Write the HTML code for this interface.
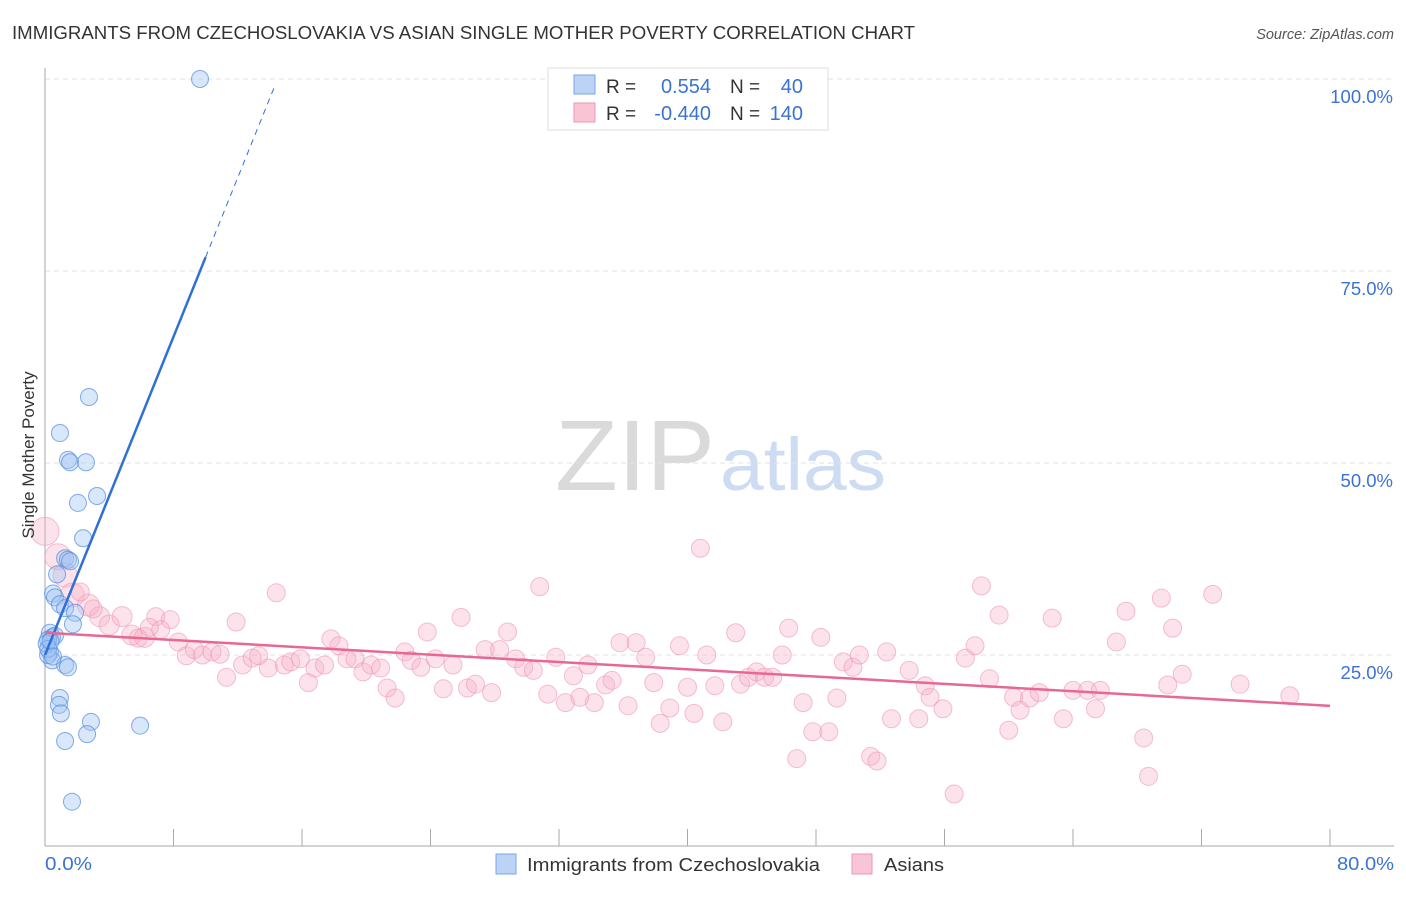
<!DOCTYPE html>
<html><head><meta charset="utf-8"><style>
body{margin:0;background:#fff;font-family:"Liberation Sans",sans-serif;}
svg text{font-family:"Liberation Sans",sans-serif;}
</style></head><body>
<svg id="chart" width="1406" height="892">
<text x="12" y="39" font-size="18" fill="#333" textLength="903" lengthAdjust="spacingAndGlyphs">IMMIGRANTS FROM CZECHOSLOVAKIA VS ASIAN SINGLE MOTHER POVERTY CORRELATION CHART</text>
<text x="1394" y="39" font-size="14.5" fill="#555" font-style="italic" text-anchor="end">Source: ZipAtlas.com</text>
<g>
<text x="555" y="490" font-size="100" fill="#dadada" font-family="Liberation Serif" textLength="160" lengthAdjust="spacingAndGlyphs">ZIP</text>
<text x="720" y="490" font-size="74" fill="#cddcf2" textLength="166" lengthAdjust="spacingAndGlyphs">atlas</text>
</g>
<g id="grid"></g>
<g id="axes"></g>
<g id="pts"></g>
<g id="lines"></g>
<text transform="translate(34,455) rotate(-90)" font-size="17" fill="#333" text-anchor="middle">Single Mother Poverty</text>
<text x="45" y="870" font-size="18" fill="#3b73d4" textLength="47" lengthAdjust="spacingAndGlyphs">0.0%</text>
<text x="1337" y="870" font-size="18" fill="#3b73d4" textLength="57" lengthAdjust="spacingAndGlyphs">80.0%</text>
<g>
<rect x="548" y="68" width="280" height="62" fill="#fff" stroke="#ddd"/>
<rect x="574" y="75" width="21" height="19" fill="#bcd3f5" stroke="#7aa5e6"/>
<rect x="574" y="103" width="21" height="19" fill="#f9c5d4" stroke="#ee97b3"/>
<text x="606" y="93" font-size="19" fill="#333">R =</text>
<text x="711" y="93" font-size="20" fill="#3b73d4" text-anchor="end">0.554</text>
<text x="730" y="93" font-size="19" fill="#333">N =</text>
<text x="803" y="93" font-size="20" fill="#3b73d4" text-anchor="end">40</text>
<text x="606" y="120" font-size="19" fill="#333">R =</text>
<text x="711" y="120" font-size="20" fill="#3b73d4" text-anchor="end">-0.440</text>
<text x="730" y="120" font-size="19" fill="#333">N =</text>
<text x="803" y="120" font-size="20" fill="#3b73d4" text-anchor="end">140</text>
</g>
<g>
<rect x="496" y="854" width="20" height="20" fill="#bcd3f5" stroke="#7aa5e6"/>
<text x="527" y="871" font-size="18.5" fill="#333" textLength="293" lengthAdjust="spacingAndGlyphs">Immigrants from Czechoslovakia</text>
<rect x="852" y="854" width="20" height="20" fill="#f9c5d4" stroke="#ee97b3"/>
<text x="884" y="871" font-size="18.5" fill="#333" textLength="60" lengthAdjust="spacingAndGlyphs">Asians</text>
</g>
</svg>
<script>
const yTicks=[25,50,75,100];
const yTickLabels=["25.0%","50.0%","75.0%","100.0%"];
const xTicks=[0,8,16,24,32,40,48,56,64,72,80];
const blueX=[9.65,2.74,0.93,1.43,1.56,2.55,3.24,2.05,2.37,1.25,1.43,1.56,0.75,0.5,0.62,0.93,1.25,1.87,1.74,0.31,0.44,0.62,0.19,0.31,0.44,0.19,1.25,1.43,0.93,0.87,0.99,2.86,2.62,1.25,5.92,1.68,0.1,0.2,0.35,0.5];
const blueY=[100,58.6,53.9,50.4,50.1,50.1,45.7,44.8,40.2,37.6,37.4,37.2,35.5,33,32.5,31.6,31.1,30.5,29,27.9,27.3,27.5,27,25.4,24.3,25,23.7,23.4,19.4,18.5,17.4,16.3,14.7,13.8,15.8,5.9,26.5,25.8,26.8,24.8];
const pinkX=[0,0.8,1.25,1.7,2.7,3.4,4,4.8,5.4,6.2,6.9,7.8,7.2,8.3,8.8,9.3,9.8,10.4,10.9,11.3,11.9,12.3,12.9,13.3,13.9,14.4,14.9,15.3,15.9,16.4,16.8,17.4,17.8,18.3,18.8,19.3,19.8,20.3,20.9,21.3,21.8,22.4,22.8,23.4,23.8,24.3,24.8,25.4,25.9,26.3,26.8,27.4,27.8,28.3,28.8,29.3,29.8,30.4,30.8,31.3,31.8,32.4,32.9,33.3,33.8,34.2,34.9,35.3,35.8,36.3,36.8,37.4,37.9,38.3,38.9,39.5,40,40.4,40.8,41.2,41.7,42.2,43,43.3,43.8,44.3,44.8,45.3,45.9,46.3,46.8,47.2,47.8,48.3,48.8,49.3,49.7,50.3,50.7,51.4,51.8,52.4,52.7,53.8,54.4,54.8,55.1,55.9,56.6,57.3,57.9,58.3,58.8,59.4,60,60.3,60.7,61.3,61.9,62.7,63.4,64,64.9,65.4,65.7,66.7,67.3,68.4,68.7,69.5,69.9,70.2,70.8,72.7,74.4,77.5,2.2,3,5.8,6.5];
const pinkY=[41.1,37.8,35.4,32.8,31.5,30,28.9,30,27.6,27.3,30,29.6,28.3,26.7,24.9,25.7,25,25.4,25.1,22.1,29.3,23.7,24.6,24.9,23.3,33.1,23.7,24.1,24.5,21.4,23.3,23.7,27.1,26.2,24.5,24.5,22.8,23.7,23.3,20.7,19.4,25.4,24.3,23.4,28,24.5,20.6,23.7,29.9,20.7,21.2,25.7,20.1,25.7,28,24.5,23.4,23,33.9,19.9,24.7,18.8,22.3,19.5,23.7,18.8,21.1,21.7,26.6,18.4,26.6,24.7,21.4,16.1,18.1,26.2,20.8,17.4,38.9,25,21,16.3,27.9,21.2,22.1,22.8,22.1,22.1,25,28.5,11.5,18.8,15,27.3,15,19.4,24.1,23.4,25,11.8,11.2,25.4,16.7,23,16.7,21,19.5,18,6.9,24.6,26.2,34,21.9,30.2,15.2,19.5,17.8,19.4,20.1,29.8,16.7,20.4,20.4,18,20.4,26.7,30.7,14.2,9.2,32.4,21.1,28.5,22.5,32.9,21.2,19.7,33.2,31,27.2,28.6];
const pinkR=[14,13,12,12,11,10,10,10,10,10];
const blueTrend=[25,5.18];
const pinkTrend=[27.9,-0.119];
const xs=v=>45+v*16.0625, ys=v=>847-v*7.68;
const NS="http://www.w3.org/2000/svg";
function mk(t,a,p){const e=document.createElementNS(NS,t);for(const k in a)e.setAttribute(k,a[k]);p.appendChild(e);return e;}
const grid=document.getElementById('grid'),axes=document.getElementById('axes');
yTicks.forEach((t,i)=>{
 const l=mk('line',{x1:45,x2:1394,y1:ys(t),y2:ys(t),stroke:'#e2e2e2','stroke-dasharray':'5,4'},grid);
 
 
 const tx=mk('text',{x:1393,y:ys(t)+24,'font-size':18.5,fill:'#3b73d4','text-anchor':'end'},grid);
 tx.textContent=yTickLabels[i];
 
 
});
const ya=mk('line',{x1:45,x2:45,y1:68,y2:846,stroke:'#aaa'},axes);


const xa=mk('line',{x1:45,x2:1394,y1:846,y2:846,stroke:'#aaa'},axes);


xTicks.forEach(t=>{const l=mk('line',{x1:xs(t),x2:xs(t),y1:829,y2:846,stroke:'#aaa'},axes);
 
 });
const pts=document.getElementById('pts');
pinkX.forEach((x,i)=>{const c=mk('circle',{cx:xs(x),cy:ys(pinkY[i]),r:pinkR[i]||9,fill:'rgba(247,175,198,0.35)',stroke:'rgba(238,150,180,0.6)','stroke-width':1},pts);
 
 });
blueX.forEach((x,i)=>{const c=mk('circle',{cx:xs(x),cy:ys(blueY[i]),r:8.5,fill:'rgba(160,196,242,0.4)',stroke:'rgba(80,138,222,0.7)','stroke-width':1},pts);
 
 });
const lines=document.getElementById('lines');
const bl=mk('line',{x1:xs(0),y1:ys(blueTrend[0]),x2:xs(10),y2:ys(blueTrend[0]+blueTrend[1]*10),stroke:'#2f6fd6','stroke-width':2.5},lines);


const bd=mk('line',{x1:xs(10),y1:ys(blueTrend[0]+blueTrend[1]*10),x2:xs(14.3),y2:ys(blueTrend[0]+blueTrend[1]*14.3),stroke:'#2f6fd6','stroke-width':1,'stroke-dasharray':'6,5'},lines);


const pl=mk('line',{x1:xs(0),y1:ys(pinkTrend[0]),x2:xs(80),y2:ys(pinkTrend[0]+pinkTrend[1]*80),stroke:'#e8688f','stroke-width':2.5},lines);


</script>
</body></html>
